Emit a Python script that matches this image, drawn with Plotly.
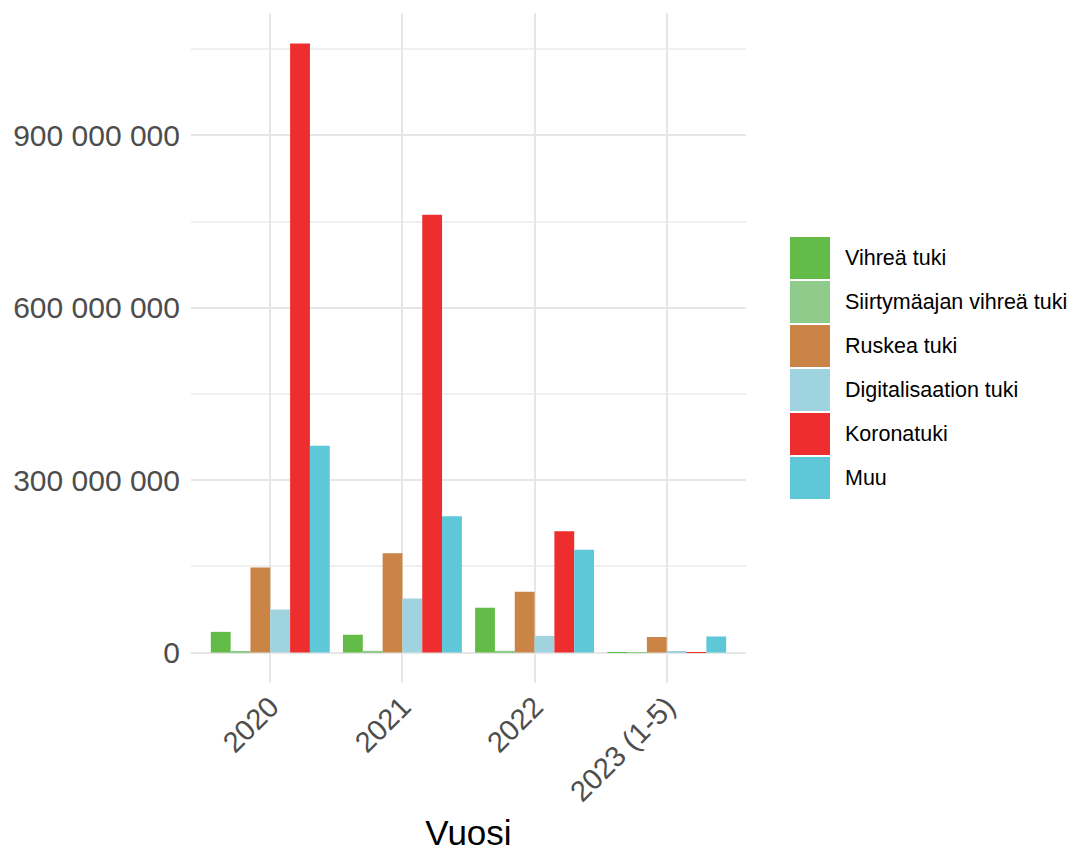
import plotly.graph_objects as go

years = ["2020", "2021", "2022", "2023 (1-5)"]
series_names = ["Vihreä tuki", "Siirtymäajan vihreä tuki", "Ruskea tuki",
                "Digitalisaation tuki", "Koronatuki", "Muu"]
vihrea = [36_000_000, 31_000_000, 78_000_000, 500_000]
siirtyma = [1_000_000, 3_000_000, 3_000_000, 500_000]
ruskea = [148_000_000, 173_000_000, 106_000_000, 27_000_000]
digi = [75_000_000, 94_000_000, 29_000_000, 1_000_000]
korona = [1_060_000_000, 762_000_000, 211_000_000, 400_000]
muu = [360_000_000, 237_000_000, 179_000_000, 28_000_000]
colors = ["#63bc47", "#8fcc8b", "#c98446", "#a0d3e0", "#ee2e2e", "#5ec8d8"]
y_ticks = [0, 300_000_000, 600_000_000, 900_000_000]

values = [vihrea, siirtyma, ruskea, digi, korona, muu]

fig = go.Figure()
for name, vals, col in zip(series_names, values, colors):
    fig.add_trace(go.Bar(x=years, y=vals, name=name, marker_color=col,
                         marker_line_width=0, showlegend=False))

# Legend drawn as large keys (ggplot style), in paper coordinates
plot_h = 670.0
plot_w = 555.0
key_x0 = (789 - 190) / plot_w
key_x1 = (829 - 190) / plot_w
text_x = (842 - 190) / plot_w
for i, (name, col) in enumerate(zip(series_names, colors)):
    top = 236 + 44 * i
    bot = top + 42
    fig.add_shape(type="rect", xref="paper", yref="paper",
                  x0=key_x0, x1=key_x1,
                  y0=(682 - bot) / plot_h, y1=(682 - top) / plot_h,
                  fillcolor=col, line_width=0, layer="above")
    fig.add_annotation(xref="paper", yref="paper", x=text_x,
                       y=(682 - (top + bot) / 2) / plot_h,
                       text=name, showarrow=False, xanchor="left",
                       yanchor="middle",
                       font=dict(size=21.5, color="black"))

font = "Liberation Sans, Arial, sans-serif"
fig.update_layout(
    width=1078, height=850,
    barmode="group", bargap=0.1, bargroupgap=0,
    plot_bgcolor="white", paper_bgcolor="white",
    margin=dict(l=183, r=340, t=5, b=175, autoexpand=False),
    separators=". ",
    font=dict(family=font),
    showlegend=False,
)
fig.update_xaxes(
    range=[-0.6, 3.6], showgrid=True, gridcolor="#e6e6e6", gridwidth=2,
    tickangle=-45, tickfont=dict(size=29, color="#4d4d4d"),
    ticks="", zeroline=False,
    title=dict(text="Vuosi", font=dict(size=35, color="black"), standoff=13),
)
fig.update_yaxes(
    range=[-53_000_000, 1_113_000_000], tickvals=y_ticks, tickformat=",d",
    showgrid=True, gridcolor="#e6e6e6", gridwidth=2, zeroline=False,
    tickfont=dict(size=30, color="#4d4d4d"), ticks="", ticklabelstandoff=10,
    minor=dict(dtick=150_000_000, tick0=0, showgrid=True,
               gridcolor="#f0f0f0", gridwidth=1.5),
)
fig.write_html("out.html")
